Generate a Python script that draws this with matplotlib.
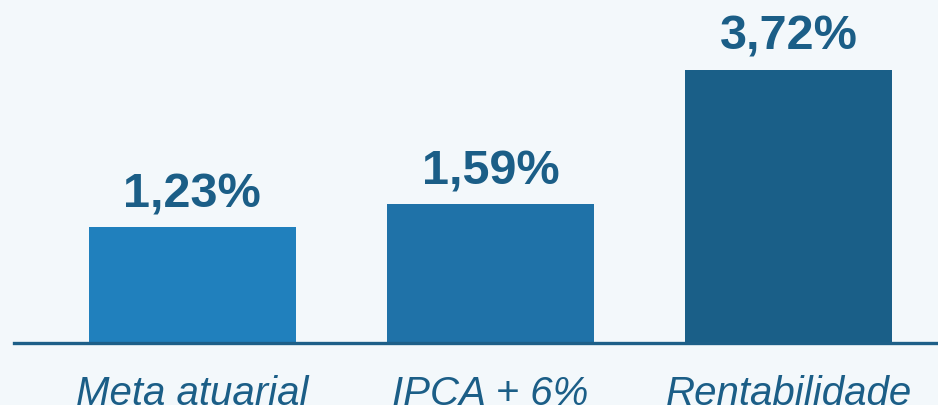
import matplotlib.pyplot as plt
import numpy as np

# data
categories = ['Meta atuarial', 'IPCA + 6%', 'Rentabilidade']
values = [1.23, 1.59, 3.72]
labels = ['1,23%', '1,59%', '3,72%']

# style
bar_colors = ['#2080BD', '#1F72A8', '#1A5F88']
text_color = '#1B5E87'
bg = '#F3F8FB'
ybase = -0.60  # axis does not start at zero

plt.rcParams['font.family'] = ['Liberation Sans', 'DejaVu Sans']

fig = plt.figure(figsize=(9.38, 4.06), dpi=100, facecolor=bg)
ax = fig.add_axes([14/938, 62/406, 924/938, 344/406])
ax.set_facecolor('none')

x = np.arange(len(values))
heights = np.array(values) - ybase
ax.bar(x, heights, bottom=ybase, width=0.694, color=bar_colors, zorder=2)

for xi, v, lab in zip(x, values, labels):
    ax.annotate(lab, (xi, v), xytext=(0, 15), textcoords='offset points',
                ha='center', va='baseline', fontsize=35, fontweight='bold',
                color=text_color)

ax.set_xlim(-0.598, 2.50)
ax.set_ylim(ybase, ybase + 344/63.3)

for s in ['top', 'right', 'left']:
    ax.spines[s].set_visible(False)
ax.spines['bottom'].set_color('#1D5F88')
ax.spines['bottom'].set_linewidth(2.4)
ax.set_yticks([])
ax.set_xticks(x)
ax.set_xticklabels(categories, fontsize=29, fontstyle='italic', color=text_color)
ax.tick_params(axis='x', length=0, pad=22)

plt.savefig('out.png', dpi=100, facecolor=bg)
